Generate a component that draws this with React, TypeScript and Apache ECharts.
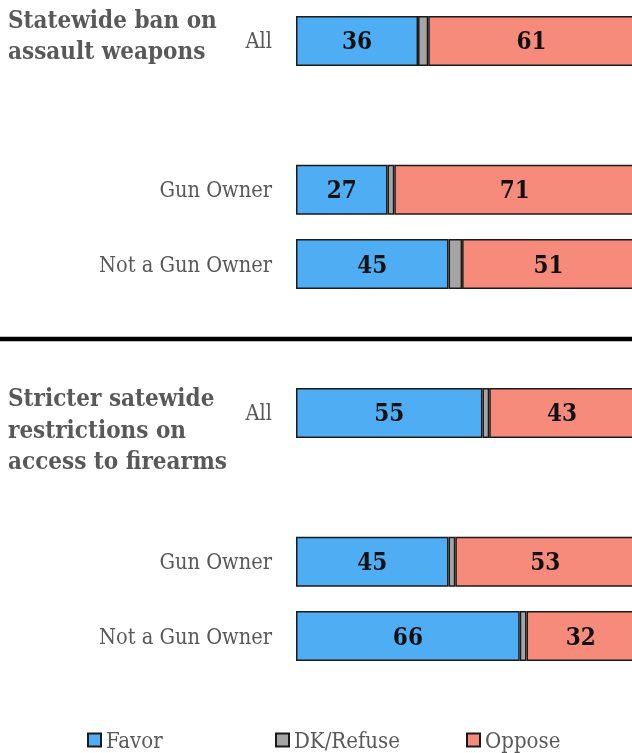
import React, { useEffect, useRef } from "react";
import * as echarts from "echarts";

const rowLabels = ["All", "", "Gun Owner", "Not a Gun Owner", "", "All", "", "Gun Owner", "Not a Gun Owner"];
const favor = [36, null, 27, 45, null, 55, null, 45, 66];
const dkRefuse = [3, null, 2, 4, null, 2, null, 2, 2];
const oppose = [61, null, 71, 51, null, 43, null, 53, 32];
const seriesNames = ["Favor", "DK/Refuse", "Oppose"];
const groupTitles = ["Statewide ban on\nassault weapons", "Stricter satewide\nrestrictions on\naccess to firearms"];

const FONT = "'DejaVu Serif Condensed', 'Liberation Serif', serif";
const GRAY = "#595959";

export default function App() {
  const ref = useRef<HTMLDivElement>(null);
  useEffect(() => {
    if (!ref.current) return;
    const chart = echarts.init(ref.current, null, { renderer: "svg" });
    const colors = ["#4eadf3", "#a5a5a5", "#f68b7c"];
    const dataSets = [favor, dkRefuse, oppose];
    const series = seriesNames.map((name, i) => ({
      name,
      type: "bar",
      stack: "total",
      barWidth: 50,
      data: dataSets[i].map((v) => (v === null ? "-" : v)),
      itemStyle: { color: colors[i], borderColor: "#1a1a1a", borderWidth: 1.5 },
      label: {
        show: i !== 1,
        position: "inside",
        color: "#111",
        fontFamily: FONT,
        fontWeight: "bold",
        fontSize: 24,
      },
    }));
    const legendLefts = [87, 275, 466];
    chart.setOption({
      animation: false,
      textStyle: { fontFamily: FONT },
      grid: {
        left: 296,
        top: 3.8,
        width: 339,
        height: 669.4,
        containLabel: false,
        outerBoundsMode: "none",
      },
      xAxis: { type: "value", min: 0, max: 100, show: false },
      yAxis: {
        type: "category",
        inverse: true,
        data: rowLabels,
        axisLine: { show: false },
        axisTick: { show: false },
        axisLabel: { color: GRAY, fontFamily: FONT, fontSize: 21.6, margin: 24 },
      },
      legend: seriesNames.map((n, i) => ({
        data: [n],
        left: legendLefts[i],
        top: 729,
        padding: 0,
        icon: "rect",
        itemWidth: 13,
        itemHeight: 13,
        itemGap: 0,
        textStyle: { color: GRAY, fontFamily: FONT, fontSize: 22, padding: [0, 0, 0, 0] },
        selectedMode: false,
      })),
      graphic: [
        {
          type: "text",
          left: 8,
          top: 4,
          style: { text: groupTitles[0], fill: GRAY, font: `bold 24px ${FONT}`, lineHeight: 31 },
        },
        {
          type: "text",
          left: 8,
          top: 382,
          style: { text: groupTitles[1], fill: GRAY, font: `bold 24px ${FONT}`, lineHeight: 31.5 },
        },
        {
          type: "line",
          shape: { x1: 0, y1: 339, x2: 632, y2: 339 },
          style: { stroke: "#000", lineWidth: 4.5 },
        },
      ],
      series,
    });
    return () => chart.dispose();
  }, []);
  return <div ref={ref} style={{ position: "fixed", left: 0, top: 0, width: 632, height: 753 }} />;
}
